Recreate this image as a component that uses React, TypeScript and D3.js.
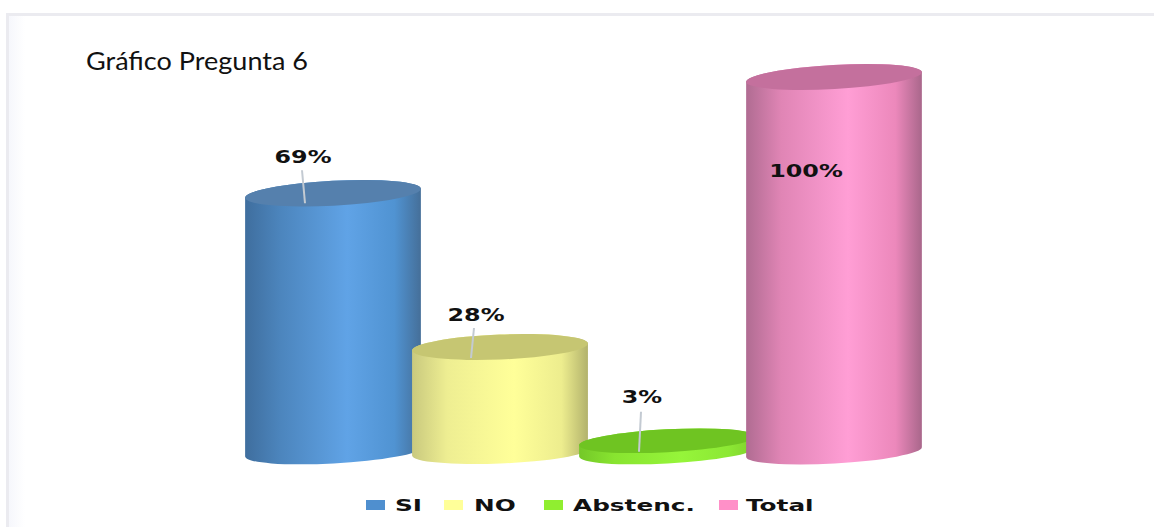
import React from "react";
import * as d3 from "d3";

const categories = ["SI", "NO", "Abstenc.", "Total"];
const percentages = [69, 28, 3, 100];
const legendLabels = ["SI", "NO", "Abstenc.", "Total"];

// Shading of each cylinder: side gradient stops and the darker top cap.
const sideStops = [
  ["#3f6e9e", "#4c85bd", "#60a3e6", "#5093d2", "#456f99"],
  ["#c9c97e", "#eeee92", "#ffff99", "#eded8e", "#b2b26c"],
  ["#74c828", "#88e430", "#96f53a", "#8ce834", "#7fd02c"],
  ["#b06c92", "#e085b5", "#ff9ed5", "#ec88bb", "#a9678b"],
];
const capColors = ["#5580ad", "#c6c672", "#6fc422", "#c4709d"];
const legendColors = ["#4f8fcf", "#ffff99", "#90ee30", "#ff90c8"];

// Tilt of the elliptical caps (degrees) and their half height.
const capTilt = [3, 2.3, 3, 3.2];
const capRy = [12.5, 12.5, 11.5, 12];
const baseRy = 11.5;
const radiusX = 88;

// Label baseline relative to the top of the bar, and leader line ends.
const labelOffset = [-30, -26, -38, 100];
const labelCenterShift = [-30, -24, -25, -28];
const leaderFrom = [[-31, -23], [-26, -19], [-26, -29], null];
const leaderTo = [[-28, 10], [-29, 11], [-28, 11], null];

const legendSwatchX = [366, 444, 544, 719];
const legendTextX = [395, 474, 573, 746];

const x = d3.scalePoint<string>().domain(categories).range([333, 834]);
const y = d3.scaleLinear().domain([0, 100]).range([452, 77]);

function cylinderSide(cx: number, top: number, i: number) {
  const a = (capTilt[i] * Math.PI) / 180;
  const dx = radiusX * Math.cos(a);
  const dy = radiusX * Math.sin(a);
  const base = y(0);
  const r = -capTilt[i];
  return [
    `M${cx - dx},${top + dy}`,
    `L${cx - dx},${base + dy}`,
    `A${radiusX},${baseRy} ${r} 0 0 ${cx + dx},${base - dy}`,
    `L${cx + dx},${top - dy}`,
    `A${radiusX},${capRy[i]} ${r} 0 0 ${cx - dx},${top + dy}`,
    "Z",
  ].join(" ");
}

export default function App() {
  const stretched = (tx: number, ty: number, sx: number) =>
    `translate(${tx},${ty}) scale(${sx},1)`;
  return (
    <svg
      width={1154}
      height={527}
      style={{ position: "absolute", left: 0, top: 0, display: "block", background: "#fff" }}
    >
      <defs>
        {sideStops.map((stops, i) => (
          <linearGradient key={i} id={`side-${i}`} x1="0" x2="1" y1="0" y2="0">
            {stops.map((c, j) => (
              <stop key={j} offset={[0, 0.2, 0.58, 0.85, 1][j]} stopColor={c} />
            ))}
          </linearGradient>
        ))}
        <linearGradient id="frame-fade" x1="0" x2="1" y1="0" y2="0">
          <stop offset="0" stopColor="#f6f7fc" />
          <stop offset="1" stopColor="#ffffff" />
        </linearGradient>
      </defs>

      {/* Sheet outline along the top and left */}
      <rect x={9} y={16} width={16} height={511} fill="url(#frame-fade)" />
      <path d="M7.5,527 V14.5 H1154" fill="none" stroke="#ebebf0" strokeWidth={3} />

      <text
        x={86}
        y={70}
        fontFamily="Lato"
        fontSize={24.5}
        fill="#111"
        textLength={222}
        lengthAdjust="spacingAndGlyphs"
      >
        Gráfico Pregunta 6
      </text>

      {/* Cylinders, later ones overlapping earlier ones */}
      {categories.map((c, i) => {
        const cx = x(c) as number;
        const top = y(percentages[i]);
        return (
          <g key={c}>
            <path d={cylinderSide(cx, top, i)} fill={`url(#side-${i})`} />
            <ellipse
              cx={cx}
              cy={top}
              rx={radiusX}
              ry={capRy[i]}
              fill={capColors[i]}
              transform={`rotate(${-capTilt[i]} ${cx} ${top})`}
            />
          </g>
        );
      })}

      {/* Value labels with their leader lines */}
      {categories.map((c, i) => {
        const cx = x(c) as number;
        const top = y(percentages[i]);
        const from = leaderFrom[i];
        const to = leaderTo[i];
        return (
          <g key={c}>
            {from && to && (
              <line
                x1={cx + from[0]}
                y1={top + from[1]}
                x2={cx + to[0]}
                y2={top + to[1]}
                stroke="#c3cad2"
                strokeWidth={2}
              />
            )}
            <text
              transform={stretched(cx + labelCenterShift[i], top + labelOffset[i], 1.36)}
              textAnchor="middle"
              fontFamily="DejaVu Sans"
              fontWeight="bold"
              fontSize={17.5}
              fill="#111"
            >
              {percentages[i]}%
            </text>
          </g>
        );
      })}

      {/* Legend */}
      {legendLabels.map((label, i) => (
        <g key={label}>
          <rect x={legendSwatchX[i]} y={500} width={19} height={10} fill={legendColors[i]} />
          <text
            transform={stretched(legendTextX[i], 511, 1.5)}
            fontFamily="DejaVu Sans"
            fontWeight="bold"
            fontSize={16.5}
            fill="#111"
          >
            {label}
          </text>
        </g>
      ))}
    </svg>
  );
}
